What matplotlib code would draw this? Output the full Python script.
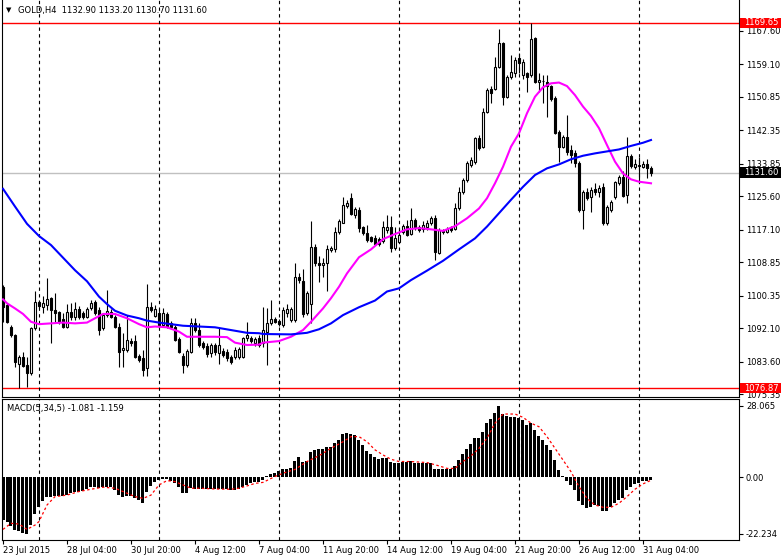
import numpy as np
import matplotlib
matplotlib.use('Agg')
import matplotlib.pyplot as plt
from matplotlib.patches import Rectangle
from matplotlib.transforms import blended_transform_factory

# GOLD H4 candles (bar 0 = 23 Jul 2015)
opens = [1102.6, 1098.0, 1092.5, 1090.3, 1083.1, 1084.8, 1082.7, 1080.6, 1092.0, 1098.8,
         1097.5, 1098.0, 1099.7, 1096.7, 1096.1, 1094.4, 1092.5, 1096.1, 1095.0, 1096.9,
         1095.9, 1095.0, 1097.1, 1098.8, 1096.7, 1092.0, 1095.4, 1096.3, 1094.8, 1092.5,
         1086.5, 1086.5, 1088.9, 1088.7, 1085.1, 1084.4, 1081.9, 1097.5, 1095.3, 1095.9,
         1092.9, 1095.6, 1093.3, 1092.5, 1089.3, 1085.1, 1082.7, 1086.1, 1093.3, 1091.6,
         1088.2, 1087.6, 1085.7, 1087.8, 1085.7, 1086.4, 1086.1, 1084.8, 1084.8, 1084.8,
         1084.8, 1089.5, 1089.5, 1088.2, 1089.5, 1088.2, 1091.2, 1093.3, 1094.3, 1093.9,
         1092.9, 1095.9, 1094.2, 1094.2, 1105.2, 1104.1, 1095.9, 1098.2, 1112.8, 1108.6,
         1108.1, 1108.6, 1112.0, 1112.1, 1116.4, 1118.9, 1123.1, 1125.1, 1120.8, 1122.1,
         1117.7, 1116.2, 1115.2, 1114.9, 1114.7, 1114.3, 1117.0, 1117.9, 1112.4, 1114.1,
         1116.6, 1118.0, 1116.0, 1119.6, 1117.7, 1117.2, 1117.9, 1118.9, 1120.0, 1111.3,
         1116.4, 1116.6, 1117.7, 1117.4, 1122.5, 1126.8, 1129.7, 1133.6, 1134.4, 1140.3,
         1138.2, 1147.1, 1152.8, 1152.8, 1158.5, 1164.5, 1150.9, 1156.0, 1156.8, 1160.8,
         1156.4, 1156.8, 1156.4, 1165.7, 1154.7, 1154.8, 1154.7, 1153.5, 1150.5, 1142.0,
         1138.2, 1140.7, 1137.3, 1136.5, 1134.1, 1122.1, 1126.8, 1125.5, 1127.4, 1126.8,
         1128.0, 1118.7, 1122.1, 1125.5, 1128.9, 1130.6, 1125.9, 1135.9, 1133.1, 1133.3,
         1133.1, 1133.8, 1132.9]
highs = [1103.0, 1098.4, 1092.9, 1090.6, 1085.3, 1086.1, 1084.8, 1092.4, 1101.4, 1099.2,
         1100.3, 1104.8, 1100.1, 1101.0, 1096.5, 1095.9, 1098.2, 1098.4, 1098.8, 1097.8,
         1096.5, 1097.5, 1099.2, 1099.2, 1097.5, 1095.9, 1101.8, 1096.9, 1095.4, 1093.3,
         1090.8, 1095.4, 1089.5, 1090.3, 1085.5, 1086.5, 1103.2, 1098.8, 1098.0, 1096.9,
         1097.1, 1096.3, 1094.0, 1093.0, 1089.9, 1085.7, 1086.7, 1094.6, 1094.6, 1093.3,
         1088.9, 1088.2, 1088.4, 1088.4, 1092.0, 1087.0, 1086.7, 1085.3, 1087.2, 1087.4,
         1089.9, 1093.7, 1090.0, 1089.9, 1090.3, 1097.5, 1097.1, 1099.2, 1094.8, 1094.4,
         1097.5, 1098.2, 1097.5, 1108.6, 1106.0, 1107.0, 1101.4, 1119.3, 1113.4, 1110.3,
         1109.8, 1113.2, 1113.0, 1117.9, 1119.8, 1125.5, 1124.6, 1126.5, 1122.9, 1123.0,
         1118.1, 1118.3, 1115.6, 1115.8, 1115.2, 1119.2, 1120.8, 1120.6, 1117.9, 1117.5,
         1118.5, 1119.6, 1122.5, 1120.2, 1118.3, 1119.2, 1119.6, 1120.6, 1120.8, 1117.5,
         1117.3, 1117.8, 1118.1, 1123.8, 1128.0, 1130.2, 1134.5, 1135.6, 1140.7, 1141.1,
         1148.0, 1153.2, 1153.6, 1161.1, 1168.0, 1164.9, 1156.5, 1161.5, 1161.0, 1162.0,
         1160.4, 1157.3, 1169.65, 1166.2, 1157.0, 1156.4, 1156.4, 1154.0, 1151.0, 1142.4,
         1141.2, 1146.3, 1138.6, 1137.4, 1134.5, 1127.2, 1127.6, 1128.0, 1129.0, 1128.4,
         1129.0, 1123.4, 1124.7, 1129.5, 1131.0, 1132.0, 1140.7, 1136.4, 1135.0, 1135.6,
         1134.6, 1135.0, 1133.2]
lows = [1093.7, 1093.3, 1089.9, 1082.3, 1076.87, 1082.3, 1077.2, 1080.2, 1091.6, 1097.3,
        1096.0, 1096.7, 1088.2, 1093.3, 1093.2, 1092.0, 1092.0, 1094.2, 1094.2, 1094.4,
        1094.4, 1094.6, 1096.7, 1095.4, 1090.4, 1091.6, 1095.0, 1094.6, 1092.0, 1082.3,
        1082.3, 1086.1, 1087.6, 1084.4, 1083.6, 1079.8, 1079.8, 1096.3, 1094.8, 1092.2,
        1092.4, 1092.0, 1091.9, 1088.7, 1085.7, 1080.6, 1082.3, 1085.7, 1091.2, 1087.4,
        1086.9, 1084.8, 1084.8, 1085.3, 1083.1, 1084.8, 1083.8, 1083.1, 1084.2, 1084.2,
        1084.4, 1088.7, 1088.2, 1087.6, 1087.2, 1087.4, 1082.7, 1092.9, 1093.3, 1092.7,
        1092.5, 1095.0, 1093.7, 1093.7, 1103.6, 1095.0, 1095.4, 1093.3, 1107.9, 1103.9,
        1105.2, 1101.4, 1111.5, 1111.5, 1115.9, 1118.7, 1122.6, 1120.8, 1120.2, 1116.6,
        1115.8, 1114.1, 1113.9, 1113.2, 1113.0, 1113.6, 1116.2, 1111.5, 1112.0, 1113.6,
        1116.1, 1115.5, 1115.8, 1117.1, 1116.6, 1116.6, 1117.0, 1118.3, 1109.4, 1111.0,
        1116.0, 1116.2, 1116.6, 1117.0, 1122.1, 1126.3, 1129.3, 1133.1, 1133.9, 1137.3,
        1137.8, 1146.7, 1149.4, 1152.6, 1158.1, 1148.8, 1150.5, 1155.5, 1156.0, 1157.0,
        1155.5, 1152.2, 1156.0, 1154.3, 1152.0, 1149.2, 1145.8, 1149.8, 1141.3, 1134.4,
        1137.8, 1136.1, 1134.0, 1133.1, 1121.7, 1117.4, 1124.6, 1121.5, 1125.8, 1125.5,
        1118.3, 1118.3, 1121.7, 1125.0, 1128.5, 1125.3, 1123.8, 1132.8, 1132.5, 1128.9,
        1132.8, 1130.2, 1130.7]
closes = [1097.5, 1093.7, 1090.3, 1083.6, 1084.8, 1082.5, 1080.6, 1092.0, 1098.8, 1097.7,
          1098.4, 1099.4, 1096.7, 1095.9, 1093.6, 1092.5, 1096.1, 1095.0, 1096.9, 1095.0,
          1095.0, 1096.9, 1098.6, 1095.9, 1091.6, 1095.4, 1096.5, 1095.0, 1092.5, 1086.1,
          1087.0, 1089.1, 1088.2, 1084.8, 1084.0, 1081.5, 1097.4, 1096.7, 1096.9, 1092.7,
          1095.9, 1092.7, 1092.5, 1089.1, 1086.1, 1082.7, 1086.3, 1093.3, 1091.6, 1087.8,
          1087.4, 1085.5, 1087.9, 1085.9, 1087.8, 1085.3, 1084.4, 1083.6, 1086.5, 1086.8,
          1089.5, 1090.4, 1088.7, 1089.3, 1087.8, 1091.6, 1093.3, 1094.3, 1093.7, 1093.1,
          1096.7, 1096.9, 1096.9, 1105.0, 1104.2, 1095.7, 1100.9, 1112.6, 1108.6, 1108.1,
          1108.6, 1112.1, 1112.4, 1116.6, 1119.2, 1123.4, 1123.8, 1121.0, 1122.3, 1117.5,
          1116.2, 1114.5, 1114.3, 1113.5, 1113.5, 1117.7, 1117.7, 1112.4, 1114.9, 1115.8,
          1118.0, 1115.8, 1119.6, 1117.5, 1117.0, 1118.3, 1118.7, 1120.2, 1111.4, 1117.0,
          1116.9, 1117.4, 1117.0, 1122.5, 1126.8, 1129.7, 1134.0, 1134.8, 1140.3, 1137.8,
          1147.1, 1152.6, 1151.9, 1158.4, 1164.5, 1150.9, 1156.0, 1157.3, 1160.2, 1159.4,
          1159.8, 1156.0, 1165.5, 1154.7, 1155.1, 1155.0, 1153.5, 1150.2, 1141.8, 1138.2,
          1140.7, 1136.9, 1136.1, 1134.0, 1122.1, 1126.8, 1125.1, 1127.2, 1126.8, 1127.6,
          1118.7, 1123.0, 1124.2, 1129.1, 1130.6, 1125.7, 1135.8, 1133.3, 1133.8, 1133.6,
          1133.8, 1132.7, 1131.6]

# moving averages, sampled at bar indices
fast_ma_bar = [0, 1, 3, 5, 7, 9, 12, 15, 18, 21, 23, 25, 28, 31, 34, 36, 38, 41, 44, 46, 49, 53,
               56, 58, 61, 64, 65, 69, 72, 75, 77, 80, 82, 84, 86, 89, 92, 95, 98, 101, 104, 107,
               110, 113, 116, 119, 121, 123, 125, 127, 129, 131, 133, 135, 137, 139, 141, 143,
               145, 147, 149, 151, 153, 155, 157, 159, 162]
fast_ma = [1099.4, 1098.4, 1097.1, 1095.7, 1093.7, 1093.1, 1093.3, 1093.5, 1093.3, 1093.5, 1094.6,
           1095.7, 1095.7, 1094.6, 1093.1, 1092.3, 1092.5, 1092.3, 1091.2, 1089.9, 1089.9, 1089.9,
           1089.8, 1088.4, 1087.8, 1087.9, 1088.4, 1088.8, 1089.9, 1091.6, 1093.7, 1097.1, 1099.7,
           1102.6, 1106.0, 1110.1, 1112.1, 1114.7, 1116.0, 1117.2, 1117.5, 1117.2, 1116.8, 1118.0,
           1120.0, 1122.5, 1125.1, 1128.9, 1133.1, 1138.2, 1141.6, 1146.7, 1150.9, 1153.3, 1154.3,
           1154.5, 1153.6, 1151.3, 1148.4, 1146.0, 1142.9, 1138.6, 1134.4, 1131.4, 1129.9, 1129.3,
           1128.9]
slow_ma_bar = [0, 3, 6, 9, 12, 15, 18, 21, 24, 26, 28, 31, 34, 36, 39, 42, 45, 49, 53, 57, 61, 64,
               65, 72, 76, 79, 82, 85, 89, 93, 96, 99, 102, 106, 110, 114, 118, 121, 124, 127, 130,
               133, 136, 139, 142, 145, 148, 151, 154, 157, 160, 162]
slow_ma = [1127.5, 1123.0, 1118.6, 1115.5, 1113.2, 1110.0, 1106.8, 1104.0, 1100.1, 1098.2, 1096.5,
           1095.3, 1094.6, 1094.0, 1093.5, 1093.1, 1092.7, 1092.5, 1092.3, 1091.6, 1090.9, 1090.8,
           1090.6, 1090.5, 1090.9, 1091.8, 1093.3, 1095.4, 1097.4, 1099.1, 1101.4, 1102.2, 1104.3,
           1106.7, 1109.2, 1112.1, 1114.9, 1117.9, 1121.3, 1124.7, 1128.0, 1131.0, 1132.7, 1133.7,
           1135.0, 1135.9, 1136.5, 1137.0, 1137.5, 1138.4, 1139.2, 1139.9]

# MACD(5,34,5) histogram and signal
macd_hist = [-16.8, -17.4, -19.0, -20.7, -21.0, -21.8, -22.234, -18.8, -14.4, -11.8,
             -9.2, -7.9, -7.6, -7.2, -7.5, -7.5, -7.0, -6.3, -5.6, -5.6,
             -5.4, -4.7, -3.9, -3.7, -4.1, -3.9, -3.7, -3.9, -5.0, -7.0,
             -7.9, -7.3, -7.3, -8.3, -8.9, -10.2, -5.8, -3.4, -1.7, -1.0,
             -0.5, -0.8, -1.3, -2.4, -3.9, -6.3, -6.3, -4.3, -4.6, -4.6,
             -4.7, -4.7, -4.7, -4.7, -4.5, -4.5, -4.5, -5.0, -5.0, -4.7,
             -3.7, -3.0, -2.1, -1.7, -1.7, -1.0, 0.7, 1.2, 1.8, 2.6,
             3.1, 3.1, 3.5, 6.6, 7.9, 6.2, 6.4, 10.1, 10.8, 11.0,
             11.0, 11.8, 11.8, 13.4, 14.7, 17.1, 17.3, 16.9, 16.7, 14.7,
             12.7, 10.5, 9.2, 7.9, 7.2, 7.5, 7.7, 6.2, 5.8, 5.8,
             6.2, 5.9, 6.6, 5.8, 5.8, 5.8, 5.8, 5.8, 3.3, 3.3,
             3.3, 3.3, 3.3, 4.5, 6.8, 9.2, 11.2, 13.0, 15.4, 15.4,
             18.0, 21.5, 22.8, 25.2, 28.065, 24.9, 24.1, 23.9, 23.6, 23.2,
             22.6, 20.6, 21.3, 18.6, 16.3, 14.7, 12.7, 10.8, 6.8, 2.9,
             0.5, -1.3, -3.0, -5.0, -9.2, -10.9, -11.9, -11.5, -10.9, -11.3,
             -13.1, -13.1, -11.5, -10.2, -8.9, -8.3, -5.0, -3.9, -2.6, -2.1,
             -1.4, -1.4, -1.081]
signal_bar = [0, 2, 4, 6, 8, 9, 11, 13, 16, 19, 22, 25, 28, 30, 33, 35, 37, 39, 41, 43, 45, 47,
              49, 53, 57, 59, 61, 63, 65, 68, 70, 73, 76, 79, 82, 85, 87, 89, 91, 93, 95, 97, 99,
              102, 106, 109, 111, 113, 115, 117, 119, 121, 123, 125, 128, 130, 132, 134, 136,
              138, 140, 142, 144, 146, 148, 150, 152, 154, 156, 158, 160, 162]
signal = [-20.5, -18.1, -18.4, -20.5, -18.8, -17.4, -10.9, -7.6, -7.0, -5.6, -4.7, -3.9, -4.3,
          -5.6, -7.6, -8.3, -7.0, -3.0, -1.3, -1.7, -3.0, -4.3, -4.3, -4.6, -4.7, -4.3, -3.4,
          -2.4, -2.0, 0.3, 1.6, 3.1, 6.2, 8.5, 11.4, 14.0, 16.0, 16.0, 14.0, 10.8, 8.8, 7.1, 6.2,
          6.2, 5.8, 4.5, 3.5, 3.5, 6.2, 8.4, 11.4, 15.4, 21.3, 24.9, 24.9, 23.6, 21.3, 19.9,
          16.0, 11.4, 6.8, 2.2, -3.7, -8.3, -10.9, -11.8, -11.8, -10.2, -7.6, -4.7, -2.6, -1.159]

price_ticks = [1167.60, 1159.10, 1150.85, 1142.35, 1133.85, 1125.60, 1117.10,
               1108.85, 1100.35, 1092.10, 1083.60, 1075.35]
time_labels = ['23 Jul 2015', '28 Jul 04:00', '30 Jul 20:00', '4 Aug 12:00', '7 Aug 04:00',
               '11 Aug 20:00', '14 Aug 12:00', '19 Aug 04:00', '21 Aug 20:00',
               '26 Aug 12:00', '31 Aug 04:00']
time_label_bar = [0, 16, 32, 48, 64, 80, 96, 112, 128, 144, 160]
grid_bar = [9, 39, 69, 99, 129, 159]

high_line, low_line, bid = 1169.65, 1076.87, 1131.60

plt.rcParams['font.family'] = 'DejaVu Sans'
FS = 6

W, H = 781, 558
fig = plt.figure(figsize=(W / 100, H / 100), dpi=100)


def ax_px(x0, y0, x1, y1):
    return fig.add_axes([x0 / W, 1 - y1 / H, (x1 - x0) / W, (y1 - y0) / H])


def y2price(y):
    return 1167.6 - (y - 31) / 3.935


def y2macd(y):
    return (477.3 - y) * 0.3935


o = np.array(opens); h = np.array(highs); l = np.array(lows); c = np.array(closes)
x = np.arange(len(o))
up = c >= o

# ---- price panel
ax = ax_px(2, 0, 739, 397)
ax.set_xlim(-0.25, 184)
ax.set_ylim(y2price(397), y2price(0))

ax.axhline(bid, color='#c0c0c0', lw=1, zorder=1)
ax.axhline(high_line, color='red', lw=1, zorder=1)
ax.axhline(low_line, color='red', lw=1, zorder=1)
for g in grid_bar:
    ax.axvline(g, color='black', lw=0.8, ls=(0, (3, 3)), zorder=1)

ax.vlines(x, l, h, color='black', lw=0.8, zorder=2)
ax.bar(x[up], c[up] - o[up], bottom=o[up], width=0.5, facecolor='white',
       edgecolor='black', linewidth=0.8, zorder=3)
ax.bar(x[~up], o[~up] - c[~up], bottom=c[~up], width=0.5, facecolor='black',
       edgecolor='black', linewidth=0.8, zorder=3)

ax.plot(fast_ma_bar, fast_ma, color='#ff00ff', lw=1.5, zorder=4)
ax.plot(slow_ma_bar, slow_ma, color='#0000ff', lw=1.5, zorder=4)

ax.set_xticks([])
ax.yaxis.tick_right()
ax.set_yticks(price_ticks)
ax.set_yticklabels(['%.2f' % t for t in price_ticks])
ax.tick_params(axis='y', direction='out', length=3, width=0.8, labelsize=FS, pad=2)
ax.spines['top'].set_visible(False)
for s in ['left', 'right', 'bottom']:
    ax.spines[s].set_linewidth(0.8)

# price labels on the right scale
tr = blended_transform_factory(fig.transFigure, ax.transData)
for val, col in [(high_line, 'red'), (bid, 'black'), (low_line, 'red')]:
    hh = 5.4 / 3.935
    ax.add_patch(Rectangle((739.5 / W, val - hh), 1 - 739.5 / W, 2 * hh, transform=tr,
                           facecolor=col, edgecolor='none', clip_on=False, zorder=6))
    ax.text(744 / W, val, '%.2f' % val, transform=tr, color='white', fontsize=FS,
            va='center', ha='left', zorder=7, clip_on=False)

fig.text(6 / W, 1 - 10 / H, '\u25bc', fontsize=5, va='center', ha='left')
fig.text(18 / W, 1 - 10 / H, 'GOLD,H4  1132.90 1133.20 1130.70 1131.60',
         fontsize=FS, va='center', ha='left')

# ---- MACD panel
ax2 = ax_px(2, 399, 739, 540)
ax2.set_xlim(-0.25, 184)
ax2.set_ylim(y2macd(540), y2macd(399))
for g in grid_bar:
    ax2.axvline(g, color='black', lw=0.8, ls=(0, (3, 3)), zorder=1)
ax2.bar(x, macd_hist, width=0.75, color='black', zorder=2)
ax2.plot(signal_bar, signal, color='red', lw=0.9, ls=(0, (2, 2)), zorder=3)

ax2.yaxis.tick_right()
ax2.set_yticks([28.065, 0, -22.234])
ax2.set_yticklabels(['28.065', '0.00', '-22.234'])
ax2.tick_params(axis='y', direction='out', length=3, width=0.8, labelsize=FS, pad=2)
ax2.set_xticks(time_label_bar)
ax2.set_xticklabels(time_labels, ha='left')
ax2.tick_params(axis='x', direction='out', length=3, width=0.8, labelsize=FS, pad=1.5)
for s in ax2.spines.values():
    s.set_linewidth(0.8)
ax2.text(5 / 737, 1 - 9 / 141, 'MACD(5,34,5) -1.081 -1.159', transform=ax2.transAxes,
         fontsize=FS, va='center', ha='left')

fig.savefig('out.png', dpi=100)
